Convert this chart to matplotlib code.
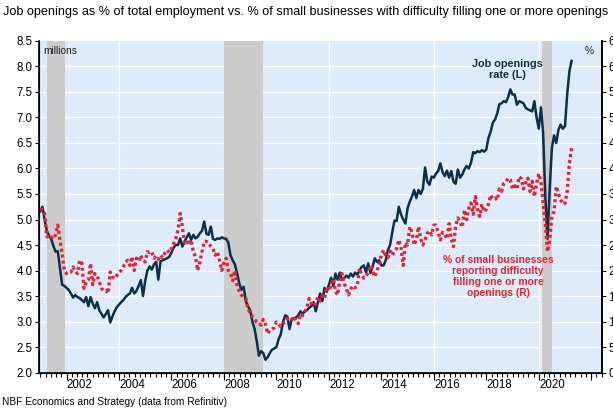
import numpy as np, pandas as pd
import matplotlib
matplotlib.use("Agg")
import matplotlib.pyplot as plt

# job openings (L, millions), monthly Dec 2000 - Mar 2021
openings = [5.16,
    5.25, 5.0, 4.78, 4.68, 4.62, 4.48, 4.37, 4.38, 4.05, 3.72, 3.70, 3.66,
    3.62, 3.55, 3.47, 3.52, 3.48, 3.46, 3.42, 3.38, 3.48, 3.30, 3.48, 3.35,
    3.26, 3.38, 3.22, 3.15, 3.08, 3.15, 3.22, 2.98, 3.10, 3.20, 3.28, 3.33,
    3.38, 3.42, 3.48, 3.52, 3.55, 3.66, 3.55, 3.60, 3.70, 3.81, 3.50, 3.80,
    4.00, 4.08, 4.02, 4.12, 4.17, 3.82, 4.18, 4.20, 4.22, 4.24, 4.27, 4.35,
    4.45, 4.50, 4.50, 4.63, 4.47, 4.57, 4.65, 4.73, 4.60, 4.70, 4.63, 4.66,
    4.73, 4.78, 4.96, 4.72, 4.70, 4.86, 4.62, 4.60, 4.63, 4.62, 4.65, 4.63,
    4.62, 4.55, 4.30, 4.20, 4.12, 3.95, 3.75, 3.62, 3.68, 3.40, 3.30, 3.22,
    3.00, 2.86, 2.62, 2.33, 2.42, 2.38, 2.25, 2.30, 2.38, 2.45, 2.47, 2.50,
    2.65, 2.75, 2.98, 3.12, 3.10, 2.85, 3.05, 3.06, 3.08, 3.12, 3.20, 3.15,
    3.20, 3.22, 3.27, 3.30, 3.38, 3.20, 3.38, 3.55, 3.40, 3.66, 3.58, 3.72,
    3.86, 3.70, 3.94, 3.82, 3.96, 3.82, 3.85, 3.90, 3.86, 3.94, 3.88, 3.96,
    3.92, 4.00, 4.07, 4.10, 3.96, 4.14, 3.95, 4.08, 4.24, 4.17, 4.20, 4.10,
    4.10, 4.20, 4.40, 4.50, 4.75, 4.98, 4.97, 5.25, 5.10, 5.00, 4.92, 5.22,
    5.35, 5.45, 5.58, 5.42, 5.58, 5.50, 5.60, 6.02, 5.75, 5.68, 5.84, 5.82,
    5.90, 5.95, 6.10, 5.93, 5.85, 5.96, 5.82, 5.95, 5.74, 5.70, 5.98, 5.82,
    5.88, 5.98, 6.05, 6.00, 6.11, 6.32, 6.30, 6.34, 6.32, 6.36, 6.33, 6.37,
    6.60, 6.72, 6.90, 6.96, 7.08, 7.26, 7.28, 7.32, 7.30, 7.40, 7.55, 7.45,
    7.45, 7.25, 7.32, 7.30, 7.28, 7.19, 7.16, 7.14, 7.12, 7.32, 7.00, 6.78,
    7.20, 6.70, 5.45, 4.62, 5.60, 6.40, 6.65, 6.50, 6.76, 6.86, 6.78, 6.83,
    7.45, 7.90, 8.11]

# small businesses with hard-to-fill openings (R, %)
hard_to_fill = [31.8,
    32.0, 31.2, 26.6, 27.0, 26.6, 26.2, 27.0, 28.9, 26.0, 23.4, 20.0, 19.4,
    19.7, 19.7, 20.7, 19.8, 19.4, 22.0, 21.5, 16.5, 17.8, 18.2, 21.4, 17.2,
    19.4, 19.0, 17.8, 16.5, 16.0, 16.1, 15.5, 19.7, 18.8, 18.4, 19.0, 19.7,
    20.0, 20.7, 21.7, 22.0, 21.0, 22.7, 20.0, 22.4, 21.8, 23.0, 22.0, 21.7,
    23.7, 23.5, 23.7, 22.4, 22.8, 22.2, 23.0, 22.5, 23.4, 24.0, 23.5, 24.3,
    25.3, 26.3, 28.0, 31.2, 28.6, 25.3, 25.8, 25.0, 26.0, 23.7, 22.7, 20.0,
    21.7, 23.7, 25.7, 25.7, 25.5, 24.7, 24.3, 23.0, 23.7, 22.0, 20.0, 21.5,
    22.4, 20.0, 19.4, 18.0, 20.0, 17.1, 16.0, 15.2, 14.8, 14.5, 12.5, 11.6,
    11.0, 10.4, 9.9, 9.6, 9.3, 10.4, 9.5, 7.6, 8.3, 8.5, 8.8, 9.9,
    9.5, 9.0, 9.6, 9.9, 10.6, 10.2, 10.4, 11.0, 9.9, 9.6, 11.5, 11.2,
    11.9, 12.9, 14.5, 13.5, 13.0, 13.5, 14.8, 14.0, 15.0, 14.5, 16.8, 16.0,
    17.0, 18.4, 16.0, 15.2, 18.0, 19.4, 17.5, 16.4, 15.2, 16.4, 17.0, 16.6,
    17.0, 20.4, 19.2, 18.5, 19.0, 19.5, 21.0, 20.0, 18.8, 19.8, 21.4, 23.0,
    24.0, 23.0, 22.5, 23.8, 23.0, 23.8, 24.3, 26.0, 24.5, 21.0, 25.5, 25.0,
    28.6, 27.5, 25.0, 26.0, 28.6, 26.2, 25.0, 26.0, 27.3, 27.8, 27.0, 28.9,
    28.9, 27.5, 26.0, 27.5, 27.0, 26.2, 29.2, 26.2, 24.7, 28.8, 30.3, 29.5,
    28.5, 31.9, 30.0, 32.2, 33.2, 31.0, 34.5, 32.0, 30.6, 33.0, 31.5, 32.0,
    33.0, 34.8, 34.0, 34.2, 33.8, 36.0, 35.5, 37.1, 37.4, 38.1, 37.8, 36.0,
    36.6, 36.0, 38.4, 38.0, 36.0, 37.2, 38.1, 35.5, 37.5, 34.5, 37.0, 39.0,
    37.2, 33.2, 29.3, 23.7, 26.0, 30.6, 31.6, 36.5, 35.0, 33.9, 33.0, 33.2,
    35.5, 41.0, 44.0]

rec_start = [2001.25, 2008.0, 2020.12]
rec_end = [2001.96, 2009.5, 2020.5]
year_labels = [2002, 2004, 2006, 2008, 2010, 2012, 2014, 2016, 2018, 2020]

dates = pd.date_range("2000-12-01", periods=len(openings), freq="MS")
t = dates.year + dates.month / 12

NAVY = "#0c2f4c"
RED = "#e8202f"
BG = "#deebfb"
plt.rcParams['font.family'] = ['Liberation Sans', 'DejaVu Sans']

fig = plt.figure(figsize=(6.13, 4.09), dpi=100)
ax = fig.add_axes([0.0644, 0.0892, 0.9172, 0.8106])
ax.set_facecolor(BG)

for a, b in zip(rec_start, rec_end):
    ax.axvspan(a, b, color="#cccccc", lw=0, zorder=1)
for y in np.arange(2.5, 8.5, 0.5):
    ax.axhline(y, color="white", lw=1.0, zorder=0.5)
for x in [2004, 2008, 2012, 2016, 2020]:
    ax.axvline(x, color="white", lw=1.0, zorder=0.5)

ax.plot(t, openings, color=NAVY, lw=1.8, zorder=3)

ax.set_xlim(2000.97, 2022.39)
ax.set_ylim(2.0, 8.5)
ax.set_yticks(np.arange(2.0, 8.51, 0.5))
ax.set_yticklabels([f"{v:.1f}" for v in np.arange(2.0, 8.51, 0.5)])
ax.tick_params(axis="y", direction="out", length=3, width=0.8, labelsize=8.3, pad=2)

ax.set_xticks([y + 0.5 for y in year_labels])
ax.set_xticklabels([str(y) for y in year_labels])
ax.set_xticks(np.arange(2001.0, 2022.4, 0.2), minor=True)
ax.tick_params(axis="x", which="major", length=0, labelsize=8.3, pad=5)
ax.tick_params(axis="x", which="minor", direction="out", length=3, width=0.8)
sec = ax.secondary_xaxis("bottom")
sec.set_xticks(np.arange(2002, 2023, 2))
sec.tick_params(length=5, width=0.8, labelbottom=False)
sec.spines["bottom"].set_visible(False)

ax.spines["top"].set_visible(False)
for s in ["left", "right", "bottom"]:
    ax.spines[s].set_linewidth(1.2)
    ax.spines[s].set_color("black")

ax2 = ax.twinx()
ax2.plot(t, hard_to_fill, color=RED, lw=2.4, dashes=(0.9, 0.9), solid_capstyle="butt", zorder=4)
ax2.set_ylim(0, 65)
ax2.set_yticks(np.arange(0, 66, 5))
ax2.tick_params(axis="y", direction="out", length=3, width=0.8, labelsize=8.3, pad=2)
ax2.spines["top"].set_visible(False)
ax2.spines["right"].set_linewidth(1.2)

ax.text(0.006, 0.985, "millions", transform=ax.transAxes, fontsize=7.3, va="top", ha="left", color="#222222")
ax.text(0.985, 0.985, "%", transform=ax.transAxes, fontsize=7.3, va="top", ha="right", color="#222222")
ax.text(2018.8, 8.15, "Job openings\nrate (L)", color=NAVY, fontsize=7.8, fontweight="bold",
        ha="center", va="top", linespacing=1.1)
ax.text(2018.45, 4.3, "% of small businesses\nreporting difficulty\nfilling one or more\nopenings (R)",
        color=RED, fontsize=7.4, fontweight="bold", ha="center", va="top", linespacing=1.1)

fig.text(0.005, 0.985, "Job openings as % of total employment vs. % of small businesses with difficulty filling one or more openings",
         fontsize=9.1, ha="left", va="top")
fig.text(0.004, 0.004, "NBF Economics and Strategy (data from Refinitiv)", fontsize=7.3, ha="left", va="bottom")

fig.savefig("out.png", dpi=100)
